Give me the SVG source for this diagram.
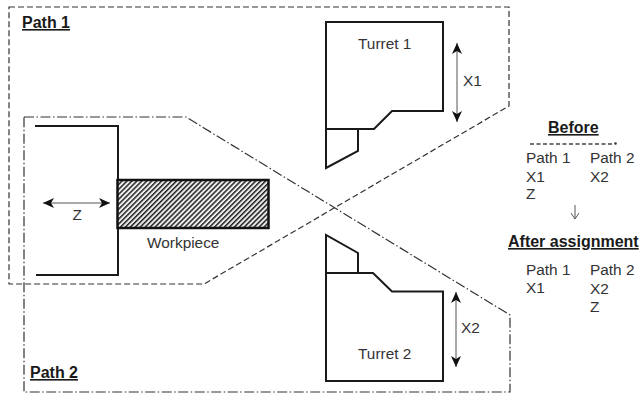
<svg xmlns="http://www.w3.org/2000/svg" width="640" height="393" viewBox="0 0 640 393">
<style>
text{font-family:"Liberation Sans",Arial,sans-serif;font-size:15.400px;fill:#333}
.b{font-weight:bold;font-size:16px;fill:#1a1a1a;text-decoration:underline}
.s{fill:none;stroke:#1a1a1a;stroke-width:2;stroke-linejoin:miter}
.d1{fill:none;stroke:#333;stroke-width:1.200;stroke-dasharray:6 3}
.d2{fill:none;stroke:#333;stroke-width:1.200;stroke-dasharray:10 2.500 1.500 2.500}
.a{fill:none;stroke:#555;stroke-width:1}
</style>
<defs>
<pattern id="h" width="3.500" height="3.500" patternUnits="userSpaceOnUse" patternTransform="rotate(45)">
<rect width="3.500" height="3.500" fill="#eee"/><rect width="1.500" height="3.500" fill="#222"/>
</pattern>
<marker id="m" markerWidth="12" markerHeight="10" refX="11" refY="5" orient="auto-start-reverse" markerUnits="userSpaceOnUse">
<path d="M0 0L11 5L0 10L3 5Z" fill="#111"/>
</marker>
</defs>
<g id="connectors">
<path id="path1-boundary" class="d1" d="M9 7H509V106L204 284H9Z"/>
<path id="path2-boundary" class="d2" d="M24 117H186L510 315V392H24Z"/>
<path class="a" d="M457 43V122" marker-start="url(#m)" marker-end="url(#m)"/>
<path class="a" d="M456 292V367" marker-start="url(#m)" marker-end="url(#m)"/>
<path class="a" d="M43 203H110" marker-start="url(#m)" marker-end="url(#m)"/>
<path class="a" d="M575 205V218M571 213L575 219L579 213"/>
<path d="M530 144H613" fill="none" stroke="#444" stroke-width="1.500" stroke-dasharray="4 2.500"/>
<circle cx="615.500" cy="143.500" r="1.300" fill="#333"/>
</g>
<g id="spindle"><path class="s" d="M35 126H118V275H36"/></g>
<g id="workpiece">
<rect x="117.500" y="180" width="151" height="48" fill="url(#h)" stroke="#111" stroke-width="2.500"/>
<text x="147" y="248">Workpiece</text>
</g>
<g id="turret1">
<path class="s" d="M326 22H443V111H392L374 129H326Z"/>
<path class="s" d="M326 129V168L358 151V129"/>
<text x="358" y="49">Turret 1</text>
</g>
<g id="turret2">
<path class="s" d="M326 273H373L392 291.500H443V381H326Z"/>
<path class="s" d="M326 273V235L358 253V273"/>
<text x="358" y="359">Turret 2</text>
</g>
<g id="labels">
<text class="b" x="22" y="28">Path 1</text>
<text class="b" x="30" y="378">Path 2</text>
<text x="463" y="86">X1</text>
<text x="461" y="333">X2</text>
<text x="72.500" y="220">Z</text>
<text class="b" x="548" y="133">Before</text>
<text x="526" y="163">Path 1</text><text x="590" y="163">Path 2</text>
<text x="526" y="182">X1</text><text x="590" y="182">X2</text>
<text x="526" y="199">Z</text>
<text class="b" x="508" y="247">After assignment</text>
<text x="526" y="275">Path 1</text><text x="590" y="275">Path 2</text>
<text x="526" y="293">X1</text><text x="590" y="294">X2</text>
<text x="590" y="312">Z</text>
</g>
</svg>
